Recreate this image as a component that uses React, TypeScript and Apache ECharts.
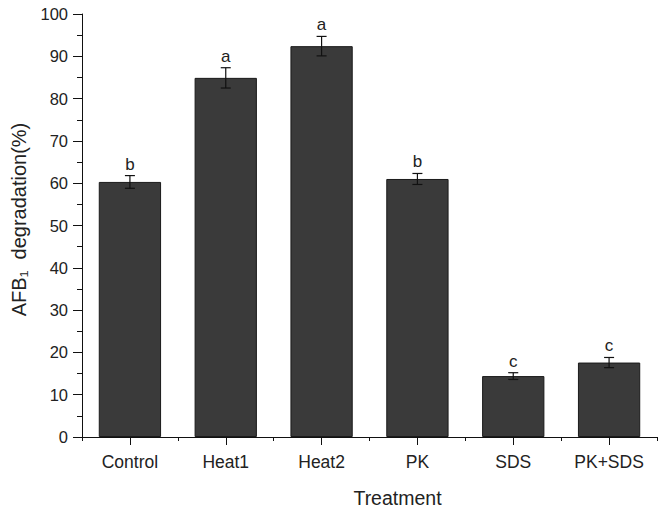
import React, { useEffect, useRef } from "react";
import * as echarts from "echarts";

const categories = ["Control", "Heat1", "Heat2", "PK", "SDS", "PK+SDS"];
const means = [60.3, 84.9, 92.4, 61.0, 14.4, 17.6];
const errors = [1.5, 2.4, 2.3, 1.3, 0.8, 1.2];
const letters = ["b", "a", "a", "b", "c", "c"];

const FONT = "Arial, 'Liberation Sans', sans-serif";

export default function App() {
  const ref = useRef<HTMLDivElement>(null);
  useEffect(() => {
    if (!ref.current) return;
    const chart = echarts.init(ref.current, null, { renderer: "svg" });
    const errData = categories.map((c, i) => [i, means[i] + errors[i], means[i] - errors[i]]);
    chart.setOption({
      animation: false,
      backgroundColor: "#fff",
      grid: { left: 82, right: 10, top: 14, bottom: 81, containLabel: false },
      xAxis: [
        {
          type: "category",
          data: categories,
          position: "bottom",
          name: "Treatment",
          nameLocation: "middle",
          nameGap: 51,
          nameTextStyle: { fontFamily: FONT, fontSize: 19.5, color: "#222", padding: [0, 0, 0, 56] },
          axisLine: { show: true, lineStyle: { color: "#111", width: 1 } },
          axisTick: { show: true, alignWithLabel: false, length: 4, inside: false, lineStyle: { color: "#111" } },
          axisLabel: { fontFamily: FONT, fontSize: 17.5, color: "#222", margin: 16 },
          splitLine: { show: false },
        },
        {
          type: "category",
          data: categories,
          position: "bottom",
          axisLine: { show: false },
          axisTick: { show: true, alignWithLabel: true, length: 8, lineStyle: { color: "#111" } },
          axisLabel: { show: false },
          splitLine: { show: false },
        },
      ],
      yAxis: {
        type: "value",
        min: 0,
        max: 100,
        interval: 10,
        name: "AFB\u2081  degradation(%)",
        nameLocation: "middle",
        nameGap: 53,
        nameTextStyle: { fontFamily: FONT, fontSize: 20, color: "#222", padding: [0, 0, 0, 12] },
        axisLine: { show: true, lineStyle: { color: "#111", width: 1 } },
        axisTick: { show: true, length: 9, lineStyle: { color: "#111" } },
        minorTick: { show: true, splitNumber: 2, length: 5, lineStyle: { color: "#111" } },
        axisLabel: { fontFamily: FONT, fontSize: 16.5, color: "#222", margin: 14 },
        splitLine: { show: false },
      },
      series: [
        {
          type: "bar",
          data: means,
          xAxisIndex: 0,
          barCategoryGap: "35%",
          itemStyle: { color: "#3a3a3a", borderColor: "#1a1a1a", borderWidth: 1 },
        },
        {
          type: "custom",
          xAxisIndex: 0,
          data: errData,
          z: 10,
          renderItem: (params: any, api: any) => {
            const x = api.value(0);
            const hi = api.coord([x, api.value(1)]);
            const lo = api.coord([x, api.value(2)]);
            const cw = 5;
            const style = { stroke: "#111", lineWidth: 1.2 };
            return {
              type: "group",
              children: [
                { type: "line", shape: { x1: hi[0], y1: hi[1], x2: lo[0], y2: lo[1] }, style },
                { type: "line", shape: { x1: hi[0] - cw, y1: hi[1], x2: hi[0] + cw, y2: hi[1] }, style },
                { type: "line", shape: { x1: lo[0] - cw, y1: lo[1], x2: lo[0] + cw, y2: lo[1] }, style },
                {
                  type: "text",
                  style: {
                    text: letters[params.dataIndex],
                    x: hi[0],
                    y: hi[1] - 3,
                    textAlign: "center",
                    textVerticalAlign: "bottom",
                    fontFamily: FONT,
                    fontSize: 17,
                    fill: "#222",
                  },
                },
              ],
            };
          },
        },
      ],
    });
    return () => chart.dispose();
  }, []);
  return (
    <div
      ref={ref}
      style={{ position: "fixed", left: 0, top: 0, width: 667, height: 518, background: "#fff" }}
    />
  );
}
